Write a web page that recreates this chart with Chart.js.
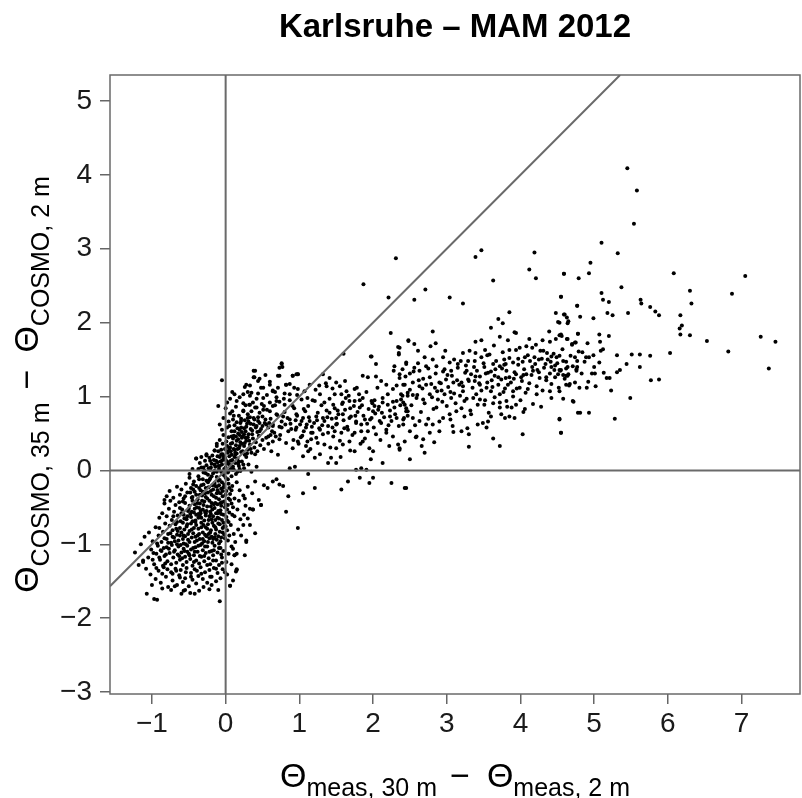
<!DOCTYPE html>
<html>
<head>
<meta charset="utf-8">
<script src="https://cdn.jsdelivr.net/npm/chart.js@4.4.1/dist/chart.umd.min.js"></script>
<style>
  html, body { margin: 0; padding: 0; background: #fff; }
</style>
</head>
<body>
<canvas id="scatter" width="802" height="798"></canvas>
<script>
// titles
const chartTitle = 'Karlsruhe \u2013 MAM 2012';
const xTicks = [-1, 0, 1, 2, 3, 4, 5, 6, 7];
const yTicks = [-3, -2, -1, 0, 1, 2, 3, 4, 5];

// [meas 30m-2m, cosmo 35m-2m] pairs
const coldBlob = [
  [-1.08,-1.33],[-1.02,-1.41],[-0.95,-1.47],[-0.91,-1.36],[-0.88,-1.52],[-0.84,-1.31],[-0.81,-1.44],[-0.78,-1.58],[-0.74,-1.38],[-0.72,-1.49],
  [-0.68,-1.33],[-0.66,-1.55],[-0.63,-1.42],[-0.61,-1.35],[-0.58,-1.51],[-0.55,-1.46],[-0.53,-1.32],[-0.50,-1.57],[-0.47,-1.39],[-0.45,-1.48],
  [-0.42,-1.34],[-0.40,-1.53],[-0.37,-1.43],[-0.34,-1.31],[-0.31,-1.47],[-0.28,-1.38],[-0.25,-1.52],[-0.22,-1.35],[-0.19,-1.44],[-0.16,-1.32],
  [-0.13,-1.50],[-0.11,-1.39],[-0.07,-1.46],[-0.04,-1.34],[0.02,-1.41],[0.06,-1.56],[0.10,-1.49],[0.15,-1.35],[-0.86,-1.60],[-0.57,-1.63],
  [-1.07,-1.67],[-0.97,-1.74],[-0.93,-1.75],[-0.69,-1.57],[-0.60,-1.67],[-0.55,-1.62],[-0.42,-1.67],[-0.36,-1.63],[-0.30,-1.58],[-0.22,-1.61],
  [-0.10,-1.62],[-0.08,-1.77],[-1.23,-1.11],[-1.12,-1.22],
  [-1.12,-1.24],[-1.05,-1.18],[-1.01,-1.07],[-0.97,-1.27],[-0.94,-1.13],[-0.92,-1.02],[-0.89,-1.21],[-0.87,-1.09],[-0.85,-1.29],[-0.83,-1.16],
  [-0.80,-1.04],[-0.79,-1.23],[-0.76,-1.12],[-0.74,-1.27],[-0.73,-1.01],[-0.71,-1.18],[-0.69,-1.08],[-0.67,-1.25],[-0.65,-1.14],[-0.64,-1.03],
  [-0.62,-1.21],[-0.60,-1.11],[-0.58,-1.28],[-0.57,-1.06],[-0.55,-1.17],[-0.53,-1.24],[-0.52,-1.02],[-0.50,-1.13],[-0.48,-1.20],[-0.47,-1.07],
  [-0.45,-1.29],[-0.43,-1.15],[-0.41,-1.04],[-0.40,-1.22],[-0.38,-1.10],[-0.36,-1.26],[-0.34,-1.01],[-0.33,-1.17],[-0.31,-1.08],[-0.29,-1.23],
  [-0.27,-1.12],[-0.25,-1.03],[-0.23,-1.19],[-0.21,-1.27],[-0.19,-1.09],[-0.17,-1.15],[-0.15,-1.02],[-0.13,-1.22],[-0.11,-1.11],[-0.09,-1.28],
  [-0.07,-1.05],[-0.05,-1.18],[-0.03,-1.09],[0.01,-1.24],[0.04,-1.13],[0.08,-1.03],[0.12,-1.15],[-0.99,-1.21],[-0.82,-1.26],[-0.61,-1.01],
  [-1.10,-0.90],[-1.04,-0.84],[-0.99,-0.96],[-0.95,-0.77],[-0.91,-0.88],[-0.90,-0.78],[-0.87,-0.97],[-0.85,-0.83],[-0.82,-0.72],[-0.80,-0.93],
  [-0.78,-0.86],[-0.76,-0.75],[-0.74,-0.98],[-0.72,-0.81],[-0.70,-0.91],[-0.68,-0.73],[-0.66,-0.87],[-0.64,-0.95],[-0.62,-0.78],[-0.60,-0.84],
  [-0.58,-0.71],[-0.57,-0.99],[-0.55,-0.89],[-0.53,-0.76],[-0.51,-0.94],[-0.49,-0.82],[-0.47,-0.72],[-0.46,-0.91],[-0.44,-0.85],[-0.42,-0.97],
  [-0.40,-0.74],[-0.38,-0.88],[-0.37,-0.79],[-0.35,-0.93],[-0.33,-0.71],[-0.31,-0.84],[-0.29,-0.96],[-0.27,-0.77],[-0.26,-0.89],[-0.24,-0.73],
  [-0.22,-0.92],[-0.20,-0.81],[-0.18,-0.98],[-0.16,-0.75],[-0.14,-0.86],[-0.12,-0.94],[-0.10,-0.72],[-0.08,-0.83],[-0.06,-0.91],[-0.04,-0.78],
  [-0.02,-0.87],[0.03,-0.95],[0.07,-0.74],[0.11,-0.86],[0.17,-0.80],[0.24,-0.74],[0.28,-0.95],[-0.93,-0.99],[-0.67,-0.79],[-0.43,-0.78],
  [-0.19,-0.90],[0.00,-0.76],[-0.56,-0.80],[-0.30,-0.74],[-0.09,-0.99],
  [-0.90,-0.64],[-0.86,-0.58],[-0.83,-0.45],[-0.80,-0.62],[-0.77,-0.52],[-0.75,-0.41],[-0.73,-0.67],[-0.70,-0.56],[-0.68,-0.47],[-0.65,-0.61],
  [-0.63,-0.43],[-0.61,-0.69],[-0.59,-0.53],[-0.57,-0.60],[-0.55,-0.44],[-0.53,-0.66],[-0.51,-0.55],[-0.49,-0.48],[-0.47,-0.63],[-0.45,-0.41],
  [-0.43,-0.57],[-0.41,-0.68],[-0.39,-0.50],[-0.37,-0.59],[-0.35,-0.45],[-0.33,-0.64],[-0.31,-0.53],[-0.29,-0.42],[-0.27,-0.61],[-0.25,-0.49],
  [-0.23,-0.67],[-0.21,-0.56],[-0.19,-0.44],[-0.17,-0.62],[-0.15,-0.51],[-0.13,-0.58],[-0.11,-0.46],[-0.09,-0.65],[-0.07,-0.54],[-0.05,-0.43],
  [-0.03,-0.60],[-0.01,-0.50],[0.02,-0.68],[0.05,-0.57],[0.08,-0.45],[0.12,-0.62],[0.16,-0.53],[0.20,-0.66],[0.27,-0.48],[0.33,-0.52],
  [0.37,-0.53],[0.48,-0.47],[-0.62,-0.51],[-0.48,-0.59],[-0.34,-0.55],[-0.20,-0.49],[-0.06,-0.59],[-0.42,-0.46],[-0.14,-0.67],[-0.56,-0.65],
  [-0.83,-0.40],[-0.80,-0.35],[-0.76,-0.28],[-0.71,-0.37],[-0.66,-0.22],[-0.62,-0.33],[-0.60,-0.26],[-0.57,-0.38],[-0.54,-0.18],[-0.52,-0.30],
  [-0.49,-0.10],[-0.47,-0.24],[-0.45,-0.36],[-0.43,-0.15],[-0.42,-0.29],[-0.40,-0.21],[-0.38,-0.39],[-0.36,-0.12],[-0.34,-0.27],[-0.32,-0.34],
  [-0.30,-0.19],[-0.28,-0.31],[-0.26,-0.14],[-0.25,-0.38],[-0.23,-0.23],[-0.21,-0.11],[-0.19,-0.33],[-0.17,-0.26],[-0.15,-0.17],[-0.13,-0.37],
  [-0.12,-0.22],[-0.10,-0.30],[-0.08,-0.13],[-0.06,-0.25],[-0.04,-0.35],[-0.02,-0.19],[0.01,-0.28],[0.03,-0.12],[0.06,-0.32],[0.09,-0.21],
  [0.12,-0.38],[0.15,-0.16],[0.19,-0.27],[0.24,-0.34],[0.30,-0.22],[-0.44,-0.26],[-0.33,-0.20],[-0.27,-0.24],[-0.18,-0.20],[-0.09,-0.39],
  [0.00,-0.10],[-0.05,-0.16],[-0.35,-0.33],[-0.11,-0.27],[0.05,-0.24]
];

const warmCore = [
  [-0.49,-0.05],[-0.45,0.02],[-0.40,0.16],[-0.37,-0.08],[-0.35,0.10],[-0.33,0.04],[-0.30,-0.03],[-0.28,0.13],[-0.26,0.07],[-0.24,-0.06],
  [-0.22,0.17],[-0.21,0.01],[-0.19,0.09],[-0.17,-0.04],[-0.16,0.14],[-0.14,0.05],[-0.12,-0.09],[-0.11,0.11],[-0.09,0.02],[-0.08,0.18],
  [-0.06,-0.02],[-0.05,0.08],[-0.03,0.15],[-0.02,-0.07],[0.00,0.04],[0.02,0.12],[0.03,-0.03],[0.05,0.19],[0.06,0.07],[0.08,-0.08],
  [0.09,0.14],[0.11,0.01],[0.13,0.10],[0.14,-0.05],[0.16,0.16],[0.18,0.06],[0.20,-0.01],[0.22,0.12],[0.25,0.03],[0.28,0.18],
  [0.31,0.08],[0.35,-0.02],[0.42,0.05],[-0.26,0.20],[-0.15,-0.01],[-0.07,0.12],[0.01,0.00],[0.07,0.02],[0.12,0.18],[0.17,0.09],
  [-0.10,0.06],[-0.20,0.04],[0.04,0.09],[-0.04,-0.05],[0.19,0.02],
  [-0.15,0.27],[-0.12,0.33],[-0.10,0.26],[-0.08,0.41],[-0.06,0.22],[-0.04,0.36],[-0.03,0.48],[-0.01,0.29],[0.01,0.39],[0.03,0.24],
  [0.04,0.45],[0.06,0.31],[0.08,0.21],[0.09,0.37],[0.11,0.47],[0.12,0.28],[0.14,0.34],[0.15,0.23],[0.17,0.42],[0.18,0.30],
  [0.20,0.38],[0.21,0.25],[0.23,0.46],[0.25,0.33],[0.26,0.21],[0.28,0.40],[0.30,0.28],[0.31,0.49],[0.33,0.35],[0.35,0.24],
  [0.37,0.43],[0.39,0.31],[0.41,0.38],[0.43,0.26],[0.45,0.47],[0.47,0.34],[0.50,0.41],[0.52,0.29],[0.55,0.44],[0.58,0.36],
  [0.61,0.48],[0.64,0.39],[0.68,0.46],[-0.03,0.19],[0.07,0.26],[0.10,0.43],[0.16,0.29],[0.22,0.36],[0.27,0.44],[0.34,0.29],
  [0.19,0.48],[0.02,0.33],[0.13,0.24],[0.40,0.22],[0.29,0.23],
  [-0.08,0.62],[-0.05,0.55],[-0.03,0.71],[0.00,0.84],[0.02,0.58],[0.04,0.66],[0.06,0.77],[0.08,0.53],[0.10,0.69],[0.12,0.61],
  [0.14,0.86],[0.16,0.57],[0.18,0.74],[0.20,0.64],[0.22,0.52],[0.24,0.81],[0.26,0.68],[0.28,0.59],[0.30,0.76],[0.32,0.89],
  [0.34,0.63],[0.36,0.54],[0.38,0.71],[0.40,0.85],[0.42,0.60],[0.44,0.67],[0.46,0.78],[0.48,0.56],[0.50,0.73],[0.53,0.64],
  [0.56,0.82],[0.58,0.58],[0.61,0.70],[0.64,0.62],[0.67,0.88],[0.70,0.75],[0.73,0.59],[0.76,0.66],[0.80,0.79],[0.84,0.71],
  [0.88,0.63],[0.93,0.84],[0.97,0.74],[1.03,0.67],[1.08,0.80],[0.09,0.80],[0.19,0.55],[0.27,0.88],[0.33,0.72],[0.43,0.52],
  [0.52,0.87],[0.63,0.53],[0.05,0.60],[0.15,0.65],[0.25,0.57],
  [-0.05,1.22],[-0.10,0.87],[0.09,1.06],[0.12,1.03],[0.40,1.35],[0.46,1.24],[0.60,1.20],[0.76,1.44],[0.77,1.40],[0.87,1.17],
  [0.96,1.30],[0.54,1.29],[0.33,1.15],[0.26,1.13],[0.19,0.99],[0.33,1.01],[0.44,1.04],[0.56,1.02],[0.67,1.06],[0.80,1.04],
  [0.87,0.95],[0.73,0.93],[0.60,0.92],[0.49,0.90],[0.37,0.92],[0.24,0.91],[0.15,0.94],[0.06,0.97],[0.02,0.92],[0.38,1.26],
  [0.73,1.28],[0.91,1.28],[0.98,1.30],[0.71,1.12],[0.82,1.16],[0.51,1.12],[0.64,1.08],[0.30,1.06],[0.42,0.97],[0.69,0.99],
  [-0.40,0.16],[-0.33,0.18],[-0.26,0.22],[-0.21,0.13],[-0.15,0.27],[-0.12,0.36],[-0.30,0.04],[-0.37,0.02]
];

const coreFill = [
  [-0.44,-1.05],[-0.39,-0.95],[-0.36,-0.86],[-0.32,-0.99],[-0.28,-0.87],[-0.24,-0.97],[-0.21,-0.84],[-0.17,-0.93],[-0.13,-0.80],[-0.10,-0.89],
  [-0.07,-0.96],[-0.04,-0.84],[-0.01,-0.92],[0.02,-0.81],[-0.46,-0.80],[-0.41,-0.70],[-0.37,-0.64],[-0.33,-0.77],[-0.29,-0.68],[-0.25,-0.79],
  [-0.22,-0.62],[-0.18,-0.71],[-0.14,-0.77],[-0.11,-0.64],[-0.08,-0.73],[-0.05,-0.67],[-0.02,-0.76],[0.01,-0.63],[0.04,-0.70],[-0.50,-0.52],
  [-0.46,-0.56],[-0.42,-0.52],[-0.38,-0.44],[-0.34,-0.58],[-0.30,-0.47],[-0.26,-0.55],[-0.22,-0.41],[-0.18,-0.53],[-0.14,-0.44],[-0.10,-0.55],
  [-0.06,-0.48],[-0.02,-0.42],[0.02,-0.53],[0.06,-0.40],[-0.40,-0.33],[-0.36,-0.24],[-0.31,-0.29],[-0.27,-0.36],[-0.24,-0.16],[-0.20,-0.28],
  [-0.16,-0.35],[-0.14,-0.21],[-0.10,-0.14],[-0.07,-0.31],[-0.03,-0.23],[0.00,-0.33],[0.04,-0.18],[0.08,-0.27],[-0.31,-0.12],[-0.27,-0.04],
  [-0.23,0.03],[-0.19,-0.08],[-0.15,0.08],[-0.12,-0.02],[-0.08,0.06],[-0.05,0.13],[-0.02,0.02],[0.01,0.09],[0.04,-0.01],[0.07,0.13],
  [0.10,0.05],[0.13,0.21],[0.16,-0.02],[-0.11,0.19],[-0.06,0.28],[-0.01,0.17],[0.03,0.26],[0.07,0.36],[0.11,0.29],[0.15,0.40],
  [0.19,0.33],[0.23,0.26],[0.26,0.37],[0.30,0.45],[0.08,0.46],[0.12,0.53],[0.17,0.50],[0.21,0.58],[0.25,0.49],[0.29,0.63],
  [0.34,0.56],[0.38,0.62],[-0.58,-0.93],[-0.54,-1.00],[-0.51,-0.86],[-0.62,-0.88],[-0.66,-1.00],[-0.70,-1.10],[-0.63,-1.16],[-0.56,-1.09],
  [-0.49,-1.15],[-0.42,-1.10],[-0.35,-1.16],[-0.28,-1.03],[-0.22,-1.10],[-0.16,-1.08],[-0.06,-1.14],[-0.78,-0.98],[-0.84,-1.05],[-0.72,-0.90],
  [-0.52,-0.73],[-0.60,-0.58],[-0.66,-0.70],[-0.71,-0.62],[-0.55,-0.35],[-0.48,-0.30],[-0.44,-0.19],
  [-0.98,-1.12],[-0.94,-1.32],[-0.90,-1.18],[-0.86,-1.40],[-0.83,-0.92],[-0.79,-1.34],[-0.77,-1.06],[-0.75,-0.85],[-0.72,-1.40],[-0.69,-0.96],
  [-0.67,-1.36],[-0.65,-0.82],[-0.62,-1.45],[-0.59,-1.19],[-0.57,-0.88],[-0.54,-1.38],[-0.52,-1.10],[-0.49,-0.97],[-0.47,-1.44],[-0.45,-0.69],
  [-0.43,-1.24],[-0.41,-0.90],[-0.39,-1.36],[-0.37,-1.02],[-0.35,-0.62],[-0.33,-1.40],[-0.31,-0.93],[-0.29,-1.16],[-0.27,-0.58],[-0.25,-1.28],
  [-0.23,-0.86],[-0.21,-1.44],[-0.19,-0.66],[-0.17,-1.22],[-0.15,-0.91],[-0.13,-1.33],[-0.11,-0.58],[-0.09,-1.05],[-0.07,-0.44],[-0.05,-1.25],
  [-0.03,-0.71],[-0.01,-1.38],[0.03,-0.47],[0.05,-0.88],[0.09,-0.60],[0.13,-0.97],[0.18,-0.41],[0.21,-0.88],[-0.58,-0.42],[-0.52,-0.62],
  [-0.46,-0.37],[-0.40,-0.60],[-0.36,-0.51],[-0.32,-0.41],[-0.28,-0.56],[-0.24,-0.30],[-0.20,-0.59],[-0.16,-0.46],[-0.12,-0.31],[-0.08,-0.57],
  [-0.04,-0.28],[0.00,-0.46],[0.04,-0.38],[0.10,-0.50],[-0.29,0.00],[-0.22,-0.13],[-0.18,0.20],[-0.13,0.13],[-0.09,-0.20],[-0.04,0.22],
  [0.00,0.14],[0.05,0.30],[0.09,0.01],[0.14,0.46],[0.18,0.12],[0.22,0.44],[0.24,0.08],[0.27,0.53],[0.32,0.40],[0.36,0.49],
  [0.41,0.58],[0.46,0.53],[0.50,0.60],[0.54,0.69],[0.59,0.64],[0.44,0.72],[0.35,0.80],[0.21,0.70],[0.11,0.74],[0.31,0.66],
  [-0.88,-1.08],[-0.81,-1.14],[-1.15,-1.00],[-1.18,-1.28],[-1.00,-1.55],[-0.74,-1.62],[-0.48,-1.66],[-0.19,-1.55],[0.08,-1.27]
];

const coreEdge = [
  [0.28,-0.97],[0.26,-1.15],[0.15,-1.34],[0.06,-1.56],[0.15,-1.13],[0.33,-0.74],[0.40,-0.85],[0.25,-0.60],[0.45,-0.40],[0.36,-0.31],
  [0.52,-0.20],[0.40,-0.15],[0.69,-0.12],[0.78,-0.21],[0.14,-1.37],[0.12,-1.15],[0.10,-1.06]
];

const bandNear = [
  [0.76,1.45],[0.73,1.39],[0.71,1.28],[0.38,1.35],[0.39,1.26],[0.28,1.16],[0.44,1.21],[0.48,1.12],[0.60,1.16],[0.64,1.07],
  [0.82,1.16],[0.91,1.28],[0.98,1.30],[0.87,1.03],[0.98,1.10],[1.07,1.07],[1.14,1.16],[1.32,1.30],[1.41,1.25],[1.50,1.19],
  [1.55,1.14],[1.37,1.14],[1.28,1.03],[1.48,1.03],[1.57,1.03],[1.64,1.07],[1.75,1.10],[1.86,1.28],[1.93,1.26],[1.98,1.54],
  [2.04,1.44],[2.35,1.57],[2.29,1.41],[2.45,1.46],[2.11,1.21],[2.18,1.16],[2.27,1.10],[2.41,1.16],[2.36,1.25],[2.47,1.01],
  [0.24,1.03],[0.35,1.05],[0.51,0.98],[0.69,0.94],[0.80,0.89],[0.91,0.87],[1.03,0.96],[1.12,0.87],[1.21,0.94],[1.34,0.92],
  [1.46,0.89],[1.59,0.92],[1.68,0.94],[1.75,0.94],[1.82,0.85],[1.86,0.98],[1.98,0.94],[2.02,0.87],[2.07,0.82],[2.00,0.80],
  [2.13,0.92],[2.20,0.89],[2.32,0.94],[2.43,0.89],[2.23,0.73],[2.32,0.71],[2.41,0.69],[2.47,0.80],[2.09,0.67],[1.98,0.71],
  [1.89,0.69],[1.77,0.64],[1.68,0.71],[1.59,0.76],[1.50,0.71],[1.50,0.62],[1.41,0.78],[1.32,0.71],[1.23,0.73],[1.14,0.67],
  [1.05,0.71],[0.96,0.76],[0.87,0.69],[0.78,0.73],[0.69,0.76],[0.60,0.80],[0.51,0.82],[0.42,0.85],[0.33,0.89],[0.24,0.80],
  [0.21,0.67],[0.30,0.71],[0.39,0.69],[0.46,0.64],[0.55,0.62],[0.64,0.60],[0.76,0.58],[0.85,0.53],[0.96,0.58],[1.06,0.53],
  [1.18,0.51],[1.28,0.55],[1.39,0.51],[1.48,0.53],[1.57,0.51],[1.66,0.55],[1.75,0.51],[1.84,0.53],[1.93,0.53],[2.04,0.49],
  [2.18,0.51],[2.27,0.46],[2.34,0.35],[2.43,0.39],[2.36,0.28],[2.13,0.10],[2.00,0.26],[1.95,0.30],[1.86,0.39],[1.75,0.26],
  [1.68,0.39],[1.59,0.35],[1.50,0.30],[1.43,0.17],[1.39,0.10],[1.50,0.10],[1.34,0.35],[1.25,0.37],[1.16,0.42],[1.09,0.33],
  [0.98,0.39],[0.91,0.30],[0.82,0.37],[0.73,0.42],[1.21,0.17],[1.12,0.26],[1.05,0.19],[0.94,0.05],[0.87,0.03],[0.71,0.21],
  [0.62,0.26],[1.77,0.01],[1.84,0.03],[1.91,0.01],[1.82,-0.10],[2.00,-0.10],[1.95,-0.17],[1.66,-0.15],[1.57,-0.26],[2.25,-0.17],
  [2.45,-0.24],[1.21,-0.24],[1.05,-0.31],[1.12,-0.05],[0.85,-0.35],[0.82,-0.56],[0.98,-0.78],[0.73,-0.19],[0.64,-0.15],[0.57,-0.24],
  [0.48,-0.47],[0.37,-0.53],[0.30,-0.65],[0.26,-0.38],
  [0.92,0.41],[0.95,0.55],[0.99,0.36],[1.01,0.62],[1.04,0.47],[1.06,0.83],[1.09,0.58],[1.11,0.39],[1.13,0.72],[1.16,0.51],
  [1.18,0.95],[1.20,0.64],[1.23,0.44],[1.25,0.78],[1.27,0.57],[1.30,0.88],[1.32,0.49],[1.34,0.67],[1.37,0.81],[1.39,0.60],
  [1.41,0.97],[1.44,0.70],[1.46,0.46],[1.48,0.84],[1.51,0.63],[1.53,0.76],[1.55,0.40],[1.58,0.90],[1.60,0.68],[1.62,0.82],
  [1.65,0.59],[1.67,1.01],[1.70,0.73],[1.72,0.48],[1.74,0.87],[1.77,0.66],[1.79,0.79],[1.82,0.95],[1.84,0.62],[1.87,0.74],
  [1.89,0.43],[1.91,1.06],[1.94,0.83],[1.96,0.69],[1.99,0.91],[2.01,0.58],[2.03,0.77],[2.06,1.12],[2.08,0.86],[2.11,0.64],
  [2.13,0.98],[2.15,0.72],[2.18,0.55],[2.20,1.03],[2.23,0.81],[2.25,0.67],[2.27,0.93],[2.30,0.76],[2.32,1.15],[2.35,0.60],
  [2.37,0.88],[2.40,1.01],[2.42,0.71],[2.45,0.84],[1.15,0.29],[1.28,0.22],[1.42,0.31],[1.56,0.18],[1.69,0.27],[1.83,0.36],
  [1.97,0.15],[2.10,0.41],[2.22,0.33],[0.97,1.02],[1.22,1.09],[1.36,1.18],[1.62,1.21],[1.78,1.12],[2.04,1.27],[2.28,1.35],
  [0.58,0.46],[0.66,0.51],[0.74,0.48],[0.81,0.62],[0.89,0.56],[0.95,0.68],[1.02,0.45],[1.10,0.62],[1.17,0.59],[1.24,0.68],
  [1.31,0.61],[1.38,0.72],[1.45,0.58],[1.52,0.81],[1.61,0.57],[1.69,0.84],[1.76,0.74],[1.85,0.88],[1.92,0.63],[2.02,0.95],
  [2.12,0.78],[2.21,0.61],[2.29,0.85],[2.38,0.96],[0.64,0.87],[0.79,0.97],[0.93,1.12],[1.11,0.98],[1.27,1.15],[1.45,1.11],
  [1.63,0.98],[1.81,1.03]
];

const bandMid = [
  [3.39,2.89],[3.47,2.98],[4.19,2.95],[4.12,2.72],[4.21,2.60],[4.59,2.66],[3.63,2.57],[2.71,2.45],[2.56,2.31],[3.04,2.34],
  [3.22,2.26],[4.55,2.35],[4.77,2.23],[3.85,2.14],[4.48,2.13],[4.60,2.11],[3.70,2.05],[3.76,1.99],[4.51,2.01],[4.65,2.02],
  [3.60,1.93],[4.78,1.85],[3.92,1.87],[3.94,1.86],[2.81,1.88],[4.39,1.88],[4.55,1.84],[4.64,1.78],[2.48,1.75],[2.56,1.71],
  [2.85,1.72],[2.78,1.68],[3.72,1.81],[3.83,1.76],[3.39,1.74],[3.47,1.76],[4.12,1.78],[4.30,1.76],[4.48,1.78],[4.40,1.74],
  [4.21,1.70],[4.70,1.70],[4.75,1.73],[3.99,1.66],[3.94,1.63],[4.08,1.68],[4.16,1.66],[3.64,1.69],[3.85,1.63],[2.36,1.66],
  [2.61,1.62],[2.98,1.62],[3.22,1.59],[3.31,1.62],[3.39,1.59],[3.52,1.63],[3.58,1.57],[3.76,1.60],[4.31,1.62],[4.36,1.59],
  [4.19,1.53],[4.25,1.50],[4.42,1.54],[4.49,1.53],[4.58,1.48],[4.77,1.48],[4.76,1.37],[4.62,1.38],[4.54,1.35],[4.47,1.42],
  [4.42,1.40],[4.34,1.44],[4.13,1.48],[4.06,1.53],[3.97,1.51],[3.90,1.46],[3.78,1.50],[3.80,1.44],[3.72,1.41],[3.63,1.44],
  [3.55,1.56],[3.47,1.53],[3.38,1.48],[3.29,1.48],[3.19,1.48],[3.10,1.50],[3.04,1.46],[2.95,1.53],[2.81,1.50],[2.70,1.53],
  [2.61,1.45],[2.56,1.39],[2.45,1.44],[2.40,1.37],[2.36,1.30],[2.50,1.31],[2.63,1.35],[2.75,1.38],[2.86,1.41],[2.95,1.34],
  [3.06,1.35],[3.15,1.39],[3.27,1.35],[3.33,1.30],[3.41,1.35],[3.51,1.40],[3.56,1.32],[3.65,1.28],[3.70,1.26],[3.74,1.23],
  [3.81,1.35],[3.85,1.26],[3.94,1.30],[4.01,1.26],[4.08,1.30],[4.17,1.35],[4.26,1.25],[4.35,1.26],[4.51,1.30],[4.62,1.28],
  [4.67,1.17],[4.80,1.12],[4.53,1.07],[4.40,1.07],[4.42,0.98],[4.22,1.03],[4.10,1.10],[3.99,1.12],[3.90,1.07],[3.79,1.11],
  [3.72,1.03],[3.60,1.07],[3.54,1.12],[3.45,1.16],[3.38,1.21],[3.29,1.23],[3.20,1.19],[3.09,1.19],[2.99,1.23],[2.90,1.19],
  [2.84,1.12],[2.72,1.16],[2.63,1.14],[2.54,1.19],[2.43,1.16],[2.38,1.03],[2.47,1.05],[2.59,0.98],[2.68,0.96],[2.77,1.03],
  [2.88,0.96],[2.97,1.03],[3.06,0.98],[3.18,1.01],[3.24,0.94],[3.36,0.98],[3.45,0.96],[3.51,0.89],[3.63,0.91],[3.72,0.85],
  [3.81,0.94],[3.88,0.85],[3.94,0.89],[4.06,0.83],[3.85,0.73],[3.92,0.71],[3.74,0.76],[3.60,0.73],[3.49,0.64],[3.42,0.62],
  [3.33,0.76],[3.24,0.73],[3.13,0.80],[3.04,0.76],[2.95,0.71],[2.86,0.85],[2.81,0.62],[2.77,0.51],[2.72,0.62],[2.63,0.67],
  [2.54,0.71],[2.45,0.80],[2.41,0.62],[2.50,0.53],[2.59,0.46],[2.68,0.42],[2.90,0.53],[3.08,0.60],[3.20,0.53],[3.30,0.49],
  [3.54,0.58],[3.63,0.43],[3.72,0.33],[4.03,0.49],[3.30,0.32],[2.70,0.24],[2.66,0.33],[2.50,0.15],[2.36,0.30],[2.43,-0.24],
  [4.53,0.69],[4.55,0.51],[4.71,0.94],[4.78,0.78],
  [2.41,0.92],[2.44,1.27],[2.47,0.74],[2.50,1.09],[2.52,0.88],[2.55,1.34],[2.57,0.61],[2.60,1.02],[2.62,1.22],[2.65,0.79],
  [2.67,1.11],[2.70,0.91],[2.72,1.41],[2.75,0.70],[2.77,1.26],[2.80,0.99],[2.82,0.83],[2.85,1.31],[2.87,1.07],[2.90,0.66],
  [2.92,1.18],[2.94,0.93],[2.97,1.37],[3.00,0.87],[3.02,1.13],[3.05,0.69],[3.07,1.28],[3.10,1.04],[3.12,0.91],[3.15,1.44],
  [3.17,1.16],[3.20,0.84],[3.22,1.07],[3.25,1.32],[3.27,0.97],[3.30,1.21],[3.32,0.81],[3.35,1.12],[3.37,1.40],[3.40,1.03],
  [3.42,0.89],[3.45,1.27],[3.47,1.08],[3.50,1.45],[3.52,0.95],[3.55,1.19],[3.57,0.78],[3.60,1.34],[3.62,1.13],[3.65,0.99],
  [3.67,1.48],[3.70,1.16],[3.72,0.92],[3.75,1.38],[3.77,1.06],[3.80,1.25],[3.82,0.86],[3.85,1.52],[3.87,1.19],[3.90,1.00],
  [3.92,1.33],[3.95,1.11],[3.97,1.43],[4.00,0.95],[4.02,1.21],[4.05,1.37],[4.07,1.05],[4.10,1.56],[4.12,1.18],[4.15,1.29],
  [4.17,0.90],[4.20,1.44],[4.22,1.14],[4.25,1.33],[4.27,1.62],[4.30,1.08],[4.32,1.39],[4.35,1.22],[4.37,1.50],[4.40,1.31],
  [4.42,1.17],[4.45,1.58],[4.47,1.26],[4.50,1.45],[4.52,1.12],[4.55,1.36],[4.57,1.64],[4.60,1.24],[4.62,1.47],[4.65,1.30],
  [4.68,1.55],[4.71,1.41],[4.74,1.19],[2.58,0.45],[2.83,0.38],[3.09,0.52],[3.28,0.57],[3.56,0.66],[3.79,0.71],[4.04,0.79],
  [4.28,0.86],[4.58,0.97],
  [3.01,1.29],[3.14,1.22],[3.26,1.42],[3.39,1.27],[3.53,1.31],[3.66,1.37],[3.78,1.43],[3.91,1.24],[4.03,1.47],[4.16,1.40],
  [4.29,1.51],[4.41,1.47],[4.53,1.55],[4.64,1.40],[4.74,1.53],[4.87,1.47],[3.05,1.06],[3.22,1.14],[3.44,1.18],[3.61,1.22],
  [3.83,1.16],[4.04,1.29],[4.23,1.36],[4.46,1.36],[2.68,1.24],[2.79,1.17],[2.93,1.08],[2.54,1.02]
];

const bandFar = [
  [5.45,4.09],[5.58,3.79],[5.54,3.34],[5.10,3.08],[5.32,2.94],[4.95,2.81],[4.59,2.66],[4.79,2.60],[4.93,2.67],[6.08,2.67],
  [7.05,2.63],[6.30,2.43],[6.87,2.39],[6.32,2.26],[5.37,2.48],[4.55,2.35],[5.10,2.40],[5.12,2.31],[5.20,2.28],[4.77,2.23],
  [5.63,2.31],[5.64,2.26],[5.76,2.21],[5.83,2.15],[5.88,2.10],[5.46,2.13],[5.18,2.13],[5.25,2.10],[4.59,2.11],[4.63,2.07],
  [4.81,2.08],[4.99,2.06],[4.53,2.00],[4.64,1.99],[6.17,2.10],[6.19,1.96],[6.16,1.92],[6.17,1.84],[6.30,1.83],[6.53,1.75],
  [7.26,1.81],[7.46,1.74],[7.37,1.38],[6.82,1.61],[6.03,1.59],[4.53,1.83],[4.56,1.82],[4.63,1.78],[4.78,1.85],[4.70,1.71],
  [4.74,1.73],[4.91,1.72],[5.07,1.84],[5.20,1.82],[5.08,1.74],[5.12,1.64],[5.09,1.62],[4.79,1.61],[4.84,1.60],[4.89,1.53],
  [4.93,1.53],[4.99,1.56],[5.31,1.56],[5.51,1.57],[5.62,1.57],[5.76,1.55],[5.07,1.46],[5.00,1.40],[4.77,1.40],[4.76,1.35],
  [4.53,1.36],[4.58,1.29],[4.64,1.28],[4.83,1.31],[4.97,1.31],[5.01,1.31],[5.13,1.32],[5.17,1.25],[5.21,1.25],[5.35,1.36],
  [5.31,1.33],[5.44,1.44],[5.62,1.40],[5.77,1.22],[5.88,1.23],[4.62,1.16],[4.66,1.15],[4.92,1.20],[4.90,1.12],[5.02,1.14],
  [5.23,1.08],[5.49,0.98],[4.72,0.93],[4.81,0.78],[4.93,0.78],[5.28,0.70],[4.53,0.70],[4.55,0.51]
];

const strays = [
  [2.31,2.87],[1.87,2.52],[2.21,2.34],[2.24,1.86],[2.48,1.76],[2.34,1.67],[2.35,1.59],[1.97,1.54],[1.60,1.58]
];

const allPoints = [coldBlob, warmCore, coreFill, coreEdge, bandNear, bandMid, bandFar, strays]
  .flat()
  .map(p => ({ x: p[0], y: p[1] }));

const fontFamily = '"Liberation Sans", Arial, Helvetica, sans-serif';
const minus = v => (v < 0 ? '\u2212' + Math.abs(v) : String(v));

// reference lines (zero lines and 1:1 line) plus the box
const refLines = {
  id: 'refLines',
  afterDatasetsDraw(chart) {
    const { ctx, chartArea: a, scales: { x, y } } = chart;
    ctx.save();
    ctx.beginPath();
    ctx.rect(a.left, a.top, a.right - a.left, a.bottom - a.top);
    ctx.clip();
    ctx.strokeStyle = '#6a6a6a';
    ctx.lineWidth = 2;
    ctx.beginPath();
    ctx.moveTo(x.getPixelForValue(0), a.top);
    ctx.lineTo(x.getPixelForValue(0), a.bottom);
    ctx.moveTo(a.left, y.getPixelForValue(0));
    ctx.lineTo(a.right, y.getPixelForValue(0));
    const lo = Math.max(x.min, y.min), hi = Math.min(x.max, y.max);
    ctx.moveTo(x.getPixelForValue(lo), y.getPixelForValue(lo));
    ctx.lineTo(x.getPixelForValue(hi), y.getPixelForValue(hi));
    ctx.stroke();
    ctx.restore();

    ctx.save();
    ctx.strokeStyle = '#6a6a6a';
    ctx.lineWidth = 1.5;
    ctx.strokeRect(a.left, a.top, a.right - a.left, a.bottom - a.top);
    ctx.restore();
  }
};

// title and the subscripted axis labels
function drawParts(ctx, parts, startX, baseY) {
  let cx = startX;
  parts.forEach(p => {
    if (p.gap) { cx += p.gap; return; }
    ctx.font = p.font;
    ctx.fillText(p.t, cx, baseY + (p.dy || 0));
    cx += ctx.measureText(p.t).width;
  });
}
function partsWidth(ctx, parts) {
  let w = 0;
  parts.forEach(p => {
    if (p.gap) { w += p.gap; return; }
    ctx.font = p.font;
    w += ctx.measureText(p.t).width;
  });
  return w;
}

const textLayer = {
  id: 'textLayer',
  afterDraw(chart) {
    const { ctx, chartArea: a } = chart;
    const big = '34px ' + fontFamily;
    const small = '25px ' + fontFamily;
    const midX = (a.left + a.right) / 2;
    const midY = (a.top + a.bottom) / 2;
    ctx.save();
    ctx.fillStyle = '#000';
    ctx.textBaseline = 'alphabetic';
    ctx.textAlign = 'left';

    ctx.font = 'bold 33px ' + fontFamily;
    const tw = ctx.measureText(chartTitle).width;
    ctx.fillText(chartTitle, midX - tw / 2, 37);

    const xParts = [
      { t: '\u0398', font: big }, { t: 'meas, 30 m', font: small, dy: 9 }, { gap: 13 },
      { t: '\u2212', font: big }, { gap: 17 },
      { t: '\u0398', font: big }, { t: 'meas, 2 m', font: small, dy: 9 }
    ];
    drawParts(ctx, xParts, midX - partsWidth(ctx, xParts) / 2, 787);

    const yParts = [
      { t: '\u0398', font: big }, { t: 'COSMO, 35 m', font: small, dy: 11 }, { gap: 13 },
      { t: '\u2212', font: big }, { gap: 17 },
      { t: '\u0398', font: big }, { t: 'COSMO, 2 m', font: small, dy: 11 }
    ];
    ctx.translate(38, midY);
    ctx.rotate(-Math.PI / 2);
    drawParts(ctx, yParts, -partsWidth(ctx, yParts) / 2, 0);
    ctx.restore();
  }
};

new Chart(document.getElementById('scatter'), {
  type: 'scatter',
  data: {
    datasets: [{
      data: allPoints,
      pointRadius: 2,
      pointHoverRadius: 2,
      pointBackgroundColor: '#000',
      pointBorderWidth: 0
    }]
  },
  options: {
    responsive: false,
    animation: false,
    devicePixelRatio: 1,
    layout: { padding: { top: 75, right: 1.5, left: 0, bottom: 0 } },
    plugins: { legend: { display: false }, title: { display: false }, tooltip: { enabled: false } },
    scales: {
      x: {
        type: 'linear',
        min: -1.569,
        max: 7.793,
        afterBuildTicks: s => { s.ticks = xTicks.map(v => ({ value: v })); },
        afterFit: s => { s.height = 104; },
        ticks: {
          callback: minus,
          font: { family: fontFamily, size: 28 },
          color: '#1a1a1a',
          padding: 3,
          maxRotation: 0,
          autoSkip: false
        },
        grid: { drawOnChartArea: false, tickLength: 10, color: '#666', lineWidth: 1.5 },
        border: { display: false }
      },
      y: {
        type: 'linear',
        min: -3.027,
        max: 5.352,
        afterBuildTicks: s => { s.ticks = yTicks.map(v => ({ value: v })); },
        afterFit: s => { s.width = 110; },
        ticks: {
          callback: minus,
          font: { family: fontFamily, size: 28 },
          color: '#1a1a1a',
          padding: 8,
          autoSkip: false
        },
        grid: { drawOnChartArea: false, tickLength: 10, color: '#666', lineWidth: 1.5 },
        border: { display: false }
      }
    }
  },
  plugins: [refLines, textLayer]
});
</script>
</body>
</html>
